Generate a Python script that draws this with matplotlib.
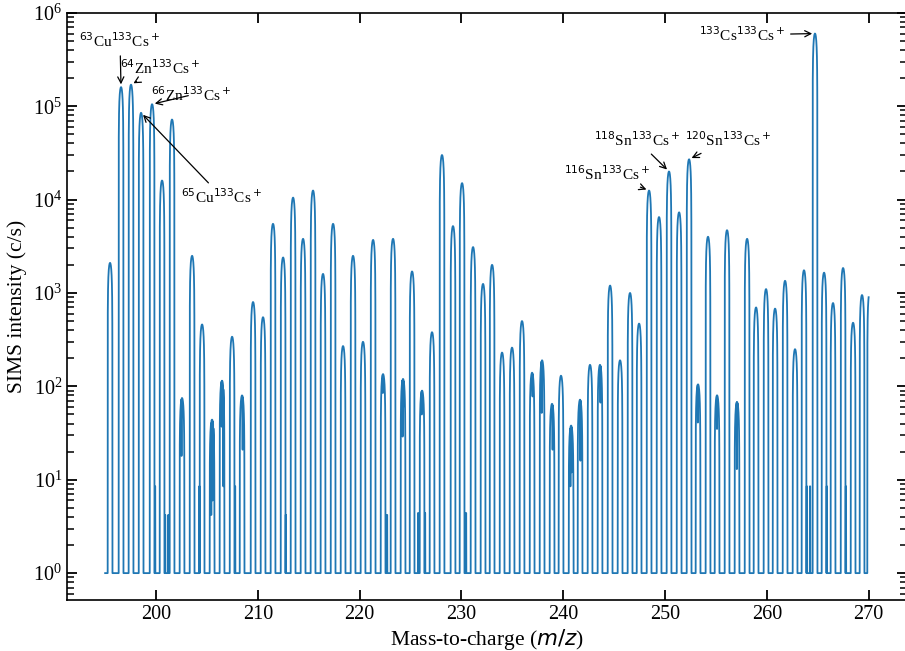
import numpy as np
import matplotlib.pyplot as plt

plt.rcParams['font.family'] = ['Liberation Serif', 'DejaVu Serif']
plt.rcParams['mathtext.fontset'] = 'dejavusans'

# peak centres (m/z) and peak heights (c/s)
peak_mz = [195.48, 196.56, 197.54, 198.53, 199.61, 200.59, 201.57, 202.55, 203.54, 204.52,
           205.50, 206.48, 207.47, 208.45, 209.53, 210.51, 211.49, 212.48, 213.46, 214.44,
           215.42, 216.40, 217.39, 218.37, 219.35, 220.33, 221.32, 222.30, 223.28, 224.26,
           225.15, 226.13, 227.11, 228.09, 229.17, 230.06, 231.14, 232.12, 233.01, 233.99,
           234.97, 235.95, 236.94, 237.92, 238.90, 239.78, 240.77, 241.65, 242.63, 243.61,
           244.60, 245.58, 246.56, 247.45, 248.43, 249.41, 250.39, 251.38, 252.36, 253.24,
           254.22, 255.11, 256.09, 257.07, 258.06, 258.94, 259.92, 260.81, 261.79, 262.77,
           263.65, 264.73, 265.62, 266.50, 267.49, 268.47, 269.35, 270.10]
peak_counts = [2100, 1.6e5, 1.7e5, 8.5e4, 1.05e5, 1.6e4, 7.2e4, 75, 2500, 460,
               44, 115, 340, 80, 800, 550, 5500, 2400, 1.05e4, 3800,
               1.25e4, 1600, 5500, 270, 2500, 300, 3700, 135, 3800, 120,
               1700, 90, 380, 3.0e4, 5200, 1.5e4, 3100, 1250, 2000, 230,
               260, 500, 140, 190, 65, 130, 38, 72, 170, 170,
               1200, 190, 1000, 470, 1.25e4, 6500, 2.0e4, 7300, 2.7e4, 105,
               4000, 80, 4700, 68, 3800, 700, 1100, 680, 1350, 250,
               1750, 6.0e5, 1650, 780, 1850, 480, 950, 1000]

# stray counts between peaks (m/z, c/s)
blip_mz = [199.90, 200.89, 201.20, 204.25, 207.76, 212.74, 222.69, 225.74, 226.42,
           230.45, 240.99, 260.97, 263.92, 264.24, 265.88, 267.76]
blip_counts = [8.5, 4.2, 4.2, 8.5, 8.5, 4.2, 4.2, 4.4, 4.4,
               4.4, 4.4, 4.4, 8.5, 8.5, 8.5, 8.5]

# count drop-outs inside weak peaks (m/z, c/s)
dip_mz = [202.50, 205.42, 205.55, 205.62, 206.45, 206.60, 208.50, 222.28, 224.22, 224.32,
          226.10, 236.98, 237.88, 238.95, 240.70, 240.82, 241.68, 243.65, 253.22, 255.10,
          257.05, 257.12]
dip_counts = [18, 4.2, 6, 10, 37, 8.5, 21, 85, 29, 61,
              50, 78, 52, 21, 8.5, 12, 16, 67, 41, 35,
              13, 52]

scan_start, scan_end = 195.0, 270.0
half_width = 0.23

mz = np.arange(scan_start, scan_end + 1e-9, 0.004)
counts = np.ones_like(mz)
for c, a in zip(peak_mz, peak_counts):
    u = (mz - c) / half_width
    inside = np.abs(u) < 1
    counts[inside] = np.maximum(counts[inside], a * np.sqrt(1 - u[inside] ** 2))
for b, v in zip(blip_mz, blip_counts):
    near = np.abs(mz - b) < 0.02
    counts[near] = np.maximum(counts[near], v)
for d, v in zip(dip_mz, dip_counts):
    near = np.abs(mz - d) < 0.012
    counts[near] = np.minimum(counts[near], v)
counts = np.clip(counts, 1, None)

fig = plt.figure(figsize=(9.05, 6.51), dpi=100)
ax = fig.add_axes([0.074, 0.0783, 0.928, 0.902])
ax.plot(mz, counts, color='#1f77b4', lw=1.3)
ax.set_yscale('log')
ax.set_xlim(191.25, 273.75)
ax.set_ylim(0.515, 1e6)

ax.tick_params(which='both', direction='in', top=True, right=True, labelsize=14.5)
ax.tick_params(which='major', length=7, width=1.3)
ax.tick_params(which='minor', length=5, width=1.1)
ax.xaxis.set_minor_locator(plt.NullLocator())
for s in ax.spines.values():
    s.set_linewidth(1.2)

ax.set_xlabel('Mass-to-charge ($m/z$)', fontsize=15.5, labelpad=2)
ax.set_ylabel('SIMS intensity (c/s)', fontsize=15.5)

labels = [
    ('$^{63}$Cu$^{133}$Cs$^+$', 1, (120, 610)),
    ('$^{64}$Zn$^{133}$Cs$^+$', 2, (160, 583)),
    ('$^{66}$Zn$^{133}$Cs$^+$', 4, (191, 556)),
    ('$^{65}$Cu$^{133}$Cs$^+$', 3, (222, 454)),
    ('$^{116}$Sn$^{133}$Cs$^+$', 54, (607, 477)),
    ('$^{118}$Sn$^{133}$Cs$^+$', 56, (637, 511)),
    ('$^{120}$Sn$^{133}$Cs$^+$', 58, (728, 511)),
    ('$^{133}$Cs$^{133}$Cs$^+$', 71, (742, 616)),
]
for text, i, pos in labels:
    ax.annotate(text, xy=(peak_mz[i], peak_counts[i]), xytext=pos,
                textcoords='figure pixels', ha='center', va='center', fontsize=11,
                arrowprops=dict(arrowstyle='->', color='k', lw=0.9, shrinkB=2))

fig.savefig('out.png', dpi=100)
